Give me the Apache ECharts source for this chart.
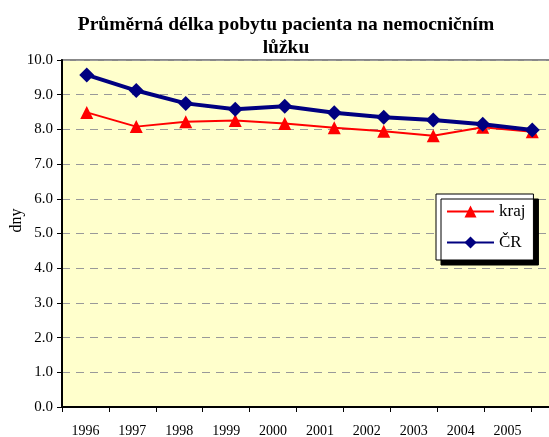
<!DOCTYPE html>
<html>
<head>
<meta charset="utf-8">
<script src="https://cdn.jsdelivr.net/npm/echarts@6/dist/echarts.min.js"></script>
<style>html,body{margin:0;padding:0;background:#fff;}#c{width:549px;height:437px;}</style>
</head>
<body>
<div id="c"></div>
<script>
const years = ['1996','1997','1998','1999','2000','2001','2002','2003','2004','2005'];
const kraj = [8.49, 8.08, 8.22, 8.26, 8.17, 8.05, 7.95, 7.82, 8.06, 7.93];
const cr = [9.57, 9.12, 8.75, 8.58, 8.67, 8.48, 8.35, 8.27, 8.15, 7.98];
const titleText = 'Průměrná délka pobytu pacienta na nemocničním\nlůžku';
const yName = 'dny';
const serif = '"Liberation Serif", "Times New Roman", serif';

const chart = echarts.init(document.getElementById('c'), null, {renderer: 'canvas'});
chart.setOption({
  animation: false,
  backgroundColor: '#ffffff',
  textStyle: {fontFamily: serif},
  title: {
    text: titleText,
    left: 281, top: 8, textAlign: 'center',
    textStyle: {fontFamily: serif, fontWeight: 'bold', fontSize: 19.5, lineHeight: 23, color: '#000'}
  },
  legend: {
    data: ['kraj', 'ČR'],
    orient: 'vertical',
    left: 436, top: 194,
    padding: [9, 8, 9, 10],
    itemGap: 14, itemWidth: 47, itemHeight: 15,
    backgroundColor: '#ffffff', borderColor: '#000', borderWidth: 1,
    shadowColor: '#000', shadowOffsetX: 5, shadowOffsetY: 5, shadowBlur: 0,
    textStyle: {fontFamily: serif, fontSize: 17, color: '#000'}
  },
  grid: [
    {left: 62, width: 495, top: 60, bottom: 30, show: true, outerBoundsMode: 'none', containLabel: false,
     backgroundColor: '#FFFFCC', borderColor: '#888', borderWidth: 2},
    {left: 62, right: 18, top: 60, bottom: 30, outerBoundsMode: 'none', containLabel: false}
  ],
  xAxis: [
    {type: 'category', gridIndex: 0, data: years, boundaryGap: true,
     axisLine: {show: true, lineStyle: {color: '#000', width: 2}},
     axisTick: {show: false}, axisLabel: {show: false}, splitLine: {show: false}},
    {type: 'category', gridIndex: 1, data: years, boundaryGap: true,
     axisLine: {show: false},
     axisTick: {show: true, length: 5, lineStyle: {color: '#000', width: 1}},
     axisLabel: {show: true, margin: 17, fontFamily: serif, fontSize: 14, color: '#000'},
     splitLine: {show: false}}
  ],
  yAxis: [
    {type: 'value', gridIndex: 0, min: 0, max: 10, interval: 1,
     name: yName, nameLocation: 'middle', nameGap: 37, nameRotate: 90, nameMoveOverlap: false,
     nameTextStyle: {fontFamily: serif, fontSize: 16, color: '#000', padding: [0, 0, 0, 26]},
     axisLine: {show: true, lineStyle: {color: '#000', width: 2}},
     axisTick: {show: true, length: 5, lineStyle: {color: '#000'}},
     axisLabel: {margin: 9, fontFamily: serif, fontSize: 15, color: '#000', formatter: v => v.toFixed(1)},
     splitLine: {show: true, lineStyle: {color: '#999', type: [8, 6], width: 1}}},
    {type: 'value', gridIndex: 1, min: 0, max: 10, interval: 1, show: false}
  ],
  series: [
    {name: 'kraj', type: 'line', xAxisIndex: 0, yAxisIndex: 0, data: kraj,
     symbol: 'triangle', symbolSize: 13,
     lineStyle: {color: '#FF0000', width: 2}, itemStyle: {color: '#FF0000'}},
    {name: 'ČR', type: 'line', xAxisIndex: 0, yAxisIndex: 0, data: cr,
     symbol: 'diamond', symbolSize: 15,
     lineStyle: {color: '#000080', width: 4}, itemStyle: {color: '#000080'}}
  ]
});
</script>
</body>
</html>
